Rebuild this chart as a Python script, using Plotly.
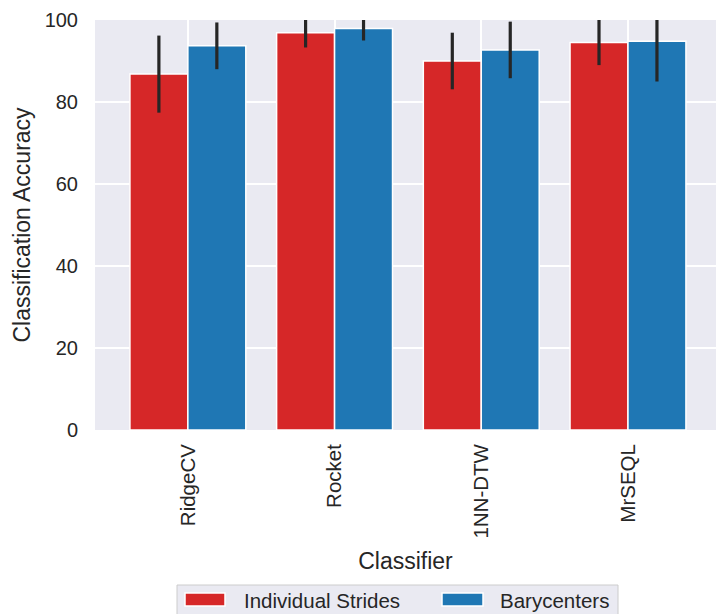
import plotly.graph_objects as go

classifiers = ["RidgeCV", "Rocket", "1NN-DTW", "MrSEQL"]
strides_mean = [86.8, 96.9, 90.0, 94.5]
strides_err = [9.4, 3.6, 6.9, 5.5]
bary_mean = [93.7, 97.9, 92.7, 94.8]
bary_err = [5.7, 2.9, 6.9, 9.8]
series_names = ["Individual Strides", "Barycenters"]
colors = ["#d62728", "#1f77b4"]

W, H = 716, 614
L, R, T, B = 95, 716, 20, 430  # plot area in px

fig = go.Figure()
for name, m, e, c in [(series_names[0], strides_mean, strides_err, colors[0]),
                      (series_names[1], bary_mean, bary_err, colors[1])]:
    fig.add_trace(go.Bar(
        x=classifiers, y=m, name=name,
        marker=dict(color=c, line=dict(color="white", width=1.5)),
        error_y=dict(type="data", array=e, visible=True, color="#262626",
                     thickness=3.2, width=0),
        showlegend=False,
    ))

# convert pixel positions to paper coordinates
def px_x(p):
    return (p - L) / (R - L)

def px_y(p):
    return (B - p) / (B - T)

font = "Liberation Sans, Arial, sans-serif"
# custom legend
shapes = [
    dict(type="rect", xref="paper", yref="paper",
         x0=px_x(177), x1=px_x(618), y0=px_y(625), y1=px_y(585),
         fillcolor="#EAEAF2", line=dict(color="#cccccc", width=1), layer="above"),
    dict(type="rect", xref="paper", yref="paper",
         x0=px_x(185), x1=px_x(225), y0=px_y(606), y1=px_y(593),
         fillcolor=colors[0], line=dict(color="white", width=1.5), layer="above"),
    dict(type="rect", xref="paper", yref="paper",
         x0=px_x(442), x1=px_x(483), y0=px_y(606), y1=px_y(593),
         fillcolor=colors[1], line=dict(color="white", width=1.5), layer="above"),
]
annotations = [
    dict(text=series_names[0], xref="paper", yref="paper", x=px_x(242), y=px_y(600),
         xanchor="left", yanchor="middle", showarrow=False,
         font=dict(family=font, size=20.5, color="#262626")),
    dict(text=series_names[1], xref="paper", yref="paper", x=px_x(498), y=px_y(600),
         xanchor="left", yanchor="middle", showarrow=False,
         font=dict(family=font, size=20.5, color="#262626")),
]

fig.update_layout(
    width=W, height=H,
    margin=dict(l=L, r=W - R, t=T, b=H - B, pad=0, autoexpand=False),
    paper_bgcolor="white", plot_bgcolor="#EAEAF2",
    barmode="group", bargap=0.21, bargroupgap=0,
    font=dict(family=font, size=20, color="#262626"),
    shapes=shapes, annotations=annotations,
    xaxis=dict(range=[-0.633, 3.6], showgrid=True, gridcolor="white", gridwidth=1.5,
               tickangle=-90, tickfont=dict(size=20.5, color="#262626"), ticks="",
               ticklabelstandoff=9, automargin=False,
               title=dict(text="Classifier", font=dict(size=23, color="#262626"), standoff=15),
               zeroline=False, showline=False),
    yaxis=dict(range=[0, 100], tickvals=[0, 20, 40, 60, 80, 100], showgrid=True,
               gridcolor="white", gridwidth=1.5, zeroline=False, ticks="",
               ticklabelstandoff=16, automargin=False,
               tickfont=dict(size=20, color="#262626"),
               title=dict(text="Classification Accuracy", font=dict(size=23, color="#262626"),
                          standoff=7)),
)

fig.write_html(
    "out.html",
    config={"displayModeBar": False},
    post_script="document.body.style.margin='0';document.body.style.overflow='hidden';",
)
